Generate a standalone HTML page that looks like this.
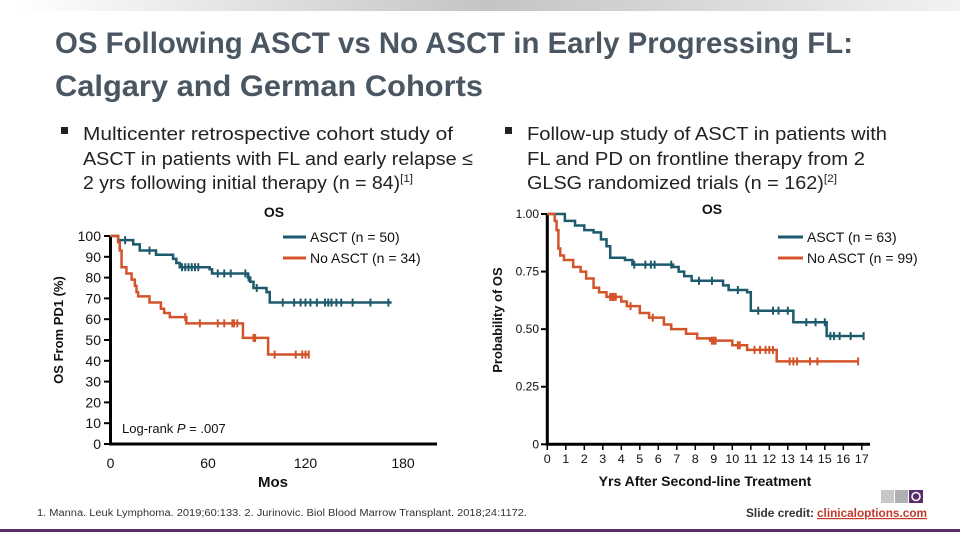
<!DOCTYPE html>
<html><head><meta charset="utf-8"><style>
body{margin:0;background:#fff}
svg{display:block;font-family:"Liberation Sans",sans-serif}
</style></head><body>
<svg width="960" height="540" viewBox="0 0 960 540">
<defs><linearGradient id="tg" x1="0" x2="1"><stop offset="0" stop-color="#fff"/><stop offset="0.5" stop-color="#c4c4c4"/><stop offset="1" stop-color="#f2f2f2"/></linearGradient></defs>
<rect x="15" y="0" width="945" height="11" fill="url(#tg)"/>
<g fill="#4a5661" font-weight="bold" font-size="30">
<text x="55" y="53" textLength="798" lengthAdjust="spacingAndGlyphs">OS Following ASCT vs No ASCT in Early Progressing FL:</text>
<text x="55" y="96" textLength="428" lengthAdjust="spacingAndGlyphs">Calgary and German Cohorts</text>
</g>
<g fill="#222" font-size="18.5">
<rect x="61" y="127" width="7" height="7" fill="#222"/>
<text x="83" y="140" textLength="370" lengthAdjust="spacingAndGlyphs">Multicenter retrospective cohort study of</text>
<text x="83" y="165" textLength="390" lengthAdjust="spacingAndGlyphs">ASCT in patients with FL and early relapse ≤</text>
<text x="83" y="189" textLength="330" lengthAdjust="spacingAndGlyphs">2 yrs following initial therapy (n = 84)<tspan font-size="11" dy="-7">[1]</tspan></text>
</g>
<g fill="#222" font-size="18.5">
<rect x="505" y="127" width="7" height="7" fill="#222"/>
<text x="527" y="140" textLength="360" lengthAdjust="spacingAndGlyphs">Follow-up study of ASCT in patients with</text>
<text x="527" y="165" textLength="338" lengthAdjust="spacingAndGlyphs">FL and PD on frontline therapy from 2</text>
<text x="527" y="189" textLength="310" lengthAdjust="spacingAndGlyphs">GLSG randomized trials (n = 162)<tspan font-size="11" dy="-7">[2]</tspan></text>
</g>
<g id="left"></g>
<g id="right"></g>
<text x="37" y="516" font-size="10" fill="#333" textLength="490" lengthAdjust="spacingAndGlyphs">1. Manna. Leuk Lymphoma. 2019;60:133. 2. Jurinovic. Biol Blood Marrow Transplant. 2018;24:1172.</text>
<g>
<rect x="881" y="490" width="13" height="13" fill="#c8c8c8"/><rect x="895" y="490" width="13" height="13" fill="#b0b0b0"/><rect x="909" y="490" width="14" height="13" fill="#5b2d6e"/>
<circle cx="916" cy="496.5" r="4" fill="none" stroke="#fff" stroke-width="1.5"/>
</g>
<text x="746" y="517" font-size="12" fill="#333" font-weight="bold" textLength="68" lengthAdjust="spacingAndGlyphs">Slide credit:</text>
<text x="817" y="517" font-size="12" fill="#c0392b" font-weight="bold" text-decoration="underline" textLength="110" lengthAdjust="spacingAndGlyphs">clinicaloptions.com</text>
<rect x="0" y="529" width="960" height="3" fill="#5b2d6e"/>
</svg>
<script>
// Left chart data (months, %)
const leftAsctT=[0,4.7,14,18,28,38.5,40.5,42.6,61,62.5,84.6,86,88,96,98,173];
const leftAsctS=[100,98,96,93,91,89,87,85,84,82,80,78,75,73,68,68];
const leftNoT=[0,4.7,5.7,6.8,9.8,13,15,16,17,24,31,33,36.5,46.7,81.5,97,122];
const leftNoS=[100,97,93,85,82,79,76,73,71,68,65,63,61,58,51,43,43];
const leftAsctCens=[9,24,44,46,48,50,52,54,66,70,74,83,85,90,106,113,117,120,123,127,132,134,136,139,142,149,160,171];
const leftNoCens=[46,55,66,70,75,76,78,88,89,101,114,118,120,122];
const leftXTicks=[0,60,120,180];
const leftYTicks=[0,10,20,30,40,50,60,70,80,90,100];
// Right chart data (years, probability)
const rightAsctT=[0,0.95,1.5,2.0,2.5,2.9,3.2,3.4,4.2,4.6,6.8,7.1,7.4,7.8,9.5,9.8,10.8,11,13.3,15.1,17.1];
const rightAsctS=[1,0.97,0.95,0.93,0.92,0.89,0.86,0.81,0.80,0.78,0.77,0.75,0.73,0.71,0.69,0.67,0.66,0.58,0.53,0.47,0.47];
const rightNoT=[0,0.4,0.5,0.6,0.7,0.9,1.4,1.8,2.1,2.5,2.8,3.2,4,4.3,5,5.5,6.3,6.7,7.5,8.1,8.8,10,10.8,12.4,16.8];
const rightNoS=[1,0.97,0.93,0.85,0.82,0.80,0.77,0.75,0.72,0.68,0.66,0.64,0.62,0.60,0.57,0.55,0.52,0.50,0.48,0.46,0.45,0.43,0.41,0.36,0.36];
const rightAsctCens=[4.7,5.3,5.6,5.8,6.7,8.2,8.9,10.3,11.4,12.2,12.5,13,14,14.5,15,15.3,15.5,15.8,16.4,17.1];
const rightNoCens=[3.4,3.5,3.6,3.7,4.5,5.7,8.9,9.0,9.1,10.3,10.4,11.2,11.5,11.8,12.0,12.2,13.1,13.3,13.5,14.2,14.6,16.8];
const rightXTicks=[0,1,2,3,4,5,6,7,8,9,10,11,12,13,14,15,16,17];
const rightYTicks=[0,0.25,0.5,0.75,1];
const rightYLabels=["0","0.25","0.50","0.75","1.00"];

const NS='http://www.w3.org/2000/svg';
function mk(parent,tag,attrs,txt){const e=document.createElementNS(NS,tag);for(const k in attrs)e.setAttribute(k,attrs[k]);if(txt!==undefined)e.textContent=txt;parent.appendChild(e);return e;}
function stepPath(T,S,sx,sy){let d='M'+sx(T[0])+','+sy(S[0]);for(let i=1;i<T.length;i++){d+=' H'+sx(T[i])+' V'+sy(S[i]);}return d;}
function survAt(T,S,t){let v=S[0];for(let i=0;i<T.length;i++){if(T[i]<=t)v=S[i];}return v;}
const TEAL='#1d5a6e',ORANGE='#d4532b';

// LEFT
(function(){
 const g=document.getElementById('left');
 const sx=m=>110.5+m*(97.5/60), sy=v=>444-v*2.08;
 const ax=mk(g,'path',{d:'M110.5,236 V444 H437',stroke:'#000','stroke-width':3,fill:'none'});
 
 
 leftYTicks.forEach(v=>{
  const t=mk(g,'line',{x1:104,x2:110,y1:sy(v),y2:sy(v),stroke:'#000','stroke-width':2});
  
  
  const l=mk(g,'text',{x:101,y:sy(v)+5,'font-size':14,'text-anchor':'end',fill:'#111'},String(v));
  
  
 });
 leftXTicks.forEach(v=>{
  const l=mk(g,'text',{x:sx(v),y:468,'font-size':14,'text-anchor':'middle',fill:'#111'},String(v));
  
  
 });
 [[TEAL,leftAsctT,leftAsctS,leftAsctCens,'asct'],[ORANGE,leftNoT,leftNoS,leftNoCens,'no-asct']].forEach(([c,T,S,C,n])=>{
  const p=mk(g,'path',{d:stepPath(T,S,sx,sy),stroke:c,'stroke-width':2.5,fill:'none'});
  
  
  C.forEach(t=>{const y=sy(survAt(T,S,t));
   const m=mk(g,'line',{x1:sx(t),x2:sx(t),y1:y-4,y2:y+4,stroke:c,'stroke-width':2});
   
   });
 });
 const ti=mk(g,'text',{x:274,y:217,'font-size':14,'font-weight':'bold','text-anchor':'middle',fill:'#111'},'OS');
 
 
 const xt=mk(g,'text',{x:273,y:487,'font-size':15,'font-weight':'bold','text-anchor':'middle',fill:'#111'},'Mos');
 
 
 const yt=mk(g,'text',{x:0,y:0,'font-size':13,'font-weight':'bold','text-anchor':'middle',fill:'#111',transform:'translate(63,330) rotate(-90)'},'OS From PD1 (%)');
 
 
 const lr=mk(g,'text',{x:122,y:433,'font-size':13,fill:'#111'},'Log-rank ');
 mk(lr,'tspan',{'font-style':'italic'},'P');
 mk(lr,'tspan',{},' = .007');
 
 
 [[TEAL,'ASCT (n = 50)',237],[ORANGE,'No ASCT (n = 34)',258]].forEach(([c,s,y])=>{
  const l=mk(g,'line',{x1:283,x2:306,y1:y,y2:y,stroke:c,'stroke-width':3});
  
  
  const t=mk(g,'text',{x:310,y:y+5,'font-size':14,fill:'#111'},s);
  
  
 });
})();

// RIGHT
(function(){
 const g=document.getElementById('right');
 const sx=y=>547.3+y*18.5, sy=v=>444.3-v*230.3;
 const ax=mk(g,'path',{d:'M547.3,214 V444.3 H870',stroke:'#000','stroke-width':3,fill:'none'});
 
 
 rightYTicks.forEach((v,i)=>{
  const t=mk(g,'line',{x1:541,x2:547,y1:sy(v),y2:sy(v),stroke:'#000','stroke-width':2});
  
  
  const l=mk(g,'text',{x:539,y:sy(v)+4,'font-size':12,'text-anchor':'end',fill:'#111'},rightYLabels[i]);
  
  
 });
 rightXTicks.forEach(v=>{
  const t=mk(g,'line',{x1:sx(v),x2:sx(v),y1:444,y2:450,stroke:'#000','stroke-width':1.5});
  
  
  const l=mk(g,'text',{x:sx(v),y:463,'font-size':12,'text-anchor':'middle',fill:'#111',textLength:v>=10?14:7,lengthAdjust:'spacingAndGlyphs'},String(v));
  
  
 });
 [[TEAL,rightAsctT,rightAsctS,rightAsctCens,'asct'],[ORANGE,rightNoT,rightNoS,rightNoCens,'no-asct']].forEach(([c,T,S,C,n])=>{
  const p=mk(g,'path',{d:stepPath(T,S,sx,sy),stroke:c,'stroke-width':2.5,fill:'none'});
  
  
  C.forEach(t=>{const y=sy(survAt(T,S,t));
   const m=mk(g,'line',{x1:sx(t),x2:sx(t),y1:y-4,y2:y+4,stroke:c,'stroke-width':2});
   
   });
 });
 const ti=mk(g,'text',{x:712,y:214,'font-size':14,'font-weight':'bold','text-anchor':'middle',fill:'#111'},'OS');
 
 
 const xt=mk(g,'text',{x:705,y:486,'font-size':14,'font-weight':'bold','text-anchor':'middle',fill:'#111'},'Yrs After Second-line Treatment');
 
 
 const yt=mk(g,'text',{x:0,y:0,'font-size':13,'font-weight':'bold','text-anchor':'middle',fill:'#111',transform:'translate(502,320) rotate(-90)'},'Probability of OS');
 
 
 [[TEAL,'ASCT (n = 63)',237],[ORANGE,'No ASCT (n = 99)',258]].forEach(([c,s,y])=>{
  const l=mk(g,'line',{x1:778,x2:803,y1:y,y2:y,stroke:c,'stroke-width':3});
  
  
  const t=mk(g,'text',{x:807,y:y+5,'font-size':14,fill:'#111'},s);
  
  
 });
})();
</script>
</body></html>
